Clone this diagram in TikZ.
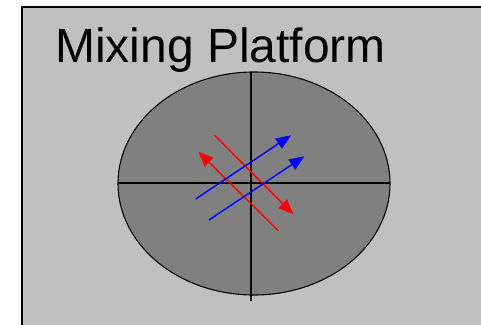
\documentclass[tikz,border=0pt]{standalone}
\usepackage{fontspec}
\setmainfont{Liberation Sans}
\usetikzlibrary{arrows.meta}
\definecolor{panel}{HTML}{C0C0C0}
\definecolor{disc}{HTML}{808080}
\tikzset{
  flow/.style={line width=1.4pt, -{Triangle[length=15pt,width=12pt]}},
  axis/.style={line width=2pt, black},
}
\begin{document}
\begin{tikzpicture}[x=1pt,y=1pt]
\useasboundingbox (0,0) rectangle (481,324);
\clip (0,0) rectangle (481,324);
\draw[fill=panel, line width=1.8pt] (22,317) rectangle (490,-10);
\node[anchor=base west, inner sep=0pt, font=\fontsize{48}{52}\selectfont] (title) at (55,261.3) {Mixing Platform};
\draw[fill=disc, line width=1.1pt] (254,140.5) ellipse [x radius=136, y radius=111.5];
\draw[axis] (118,141) -- (390,141);
\draw[axis] (251,252) -- (251,23);
\coordinate (r1s) at (214.3,189);
\coordinate (r1e) at (293.3,109.7);
\coordinate (r2s) at (278.3,93.3);
\coordinate (r2e) at (198.3,172.3);
\coordinate (b1s) at (195.7,125);
\coordinate (b1e) at (291,188.7);
\coordinate (b2s) at (209,104);
\coordinate (b2e) at (304.3,167.7);
\draw[flow, red] (r1s) -- (r1e);
\draw[flow, red] (r2s) -- (r2e);
\draw[flow, blue] (b1s) -- (b1e);
\draw[flow, blue] (b2s) -- (b2e);
\end{tikzpicture}
\end{document}
